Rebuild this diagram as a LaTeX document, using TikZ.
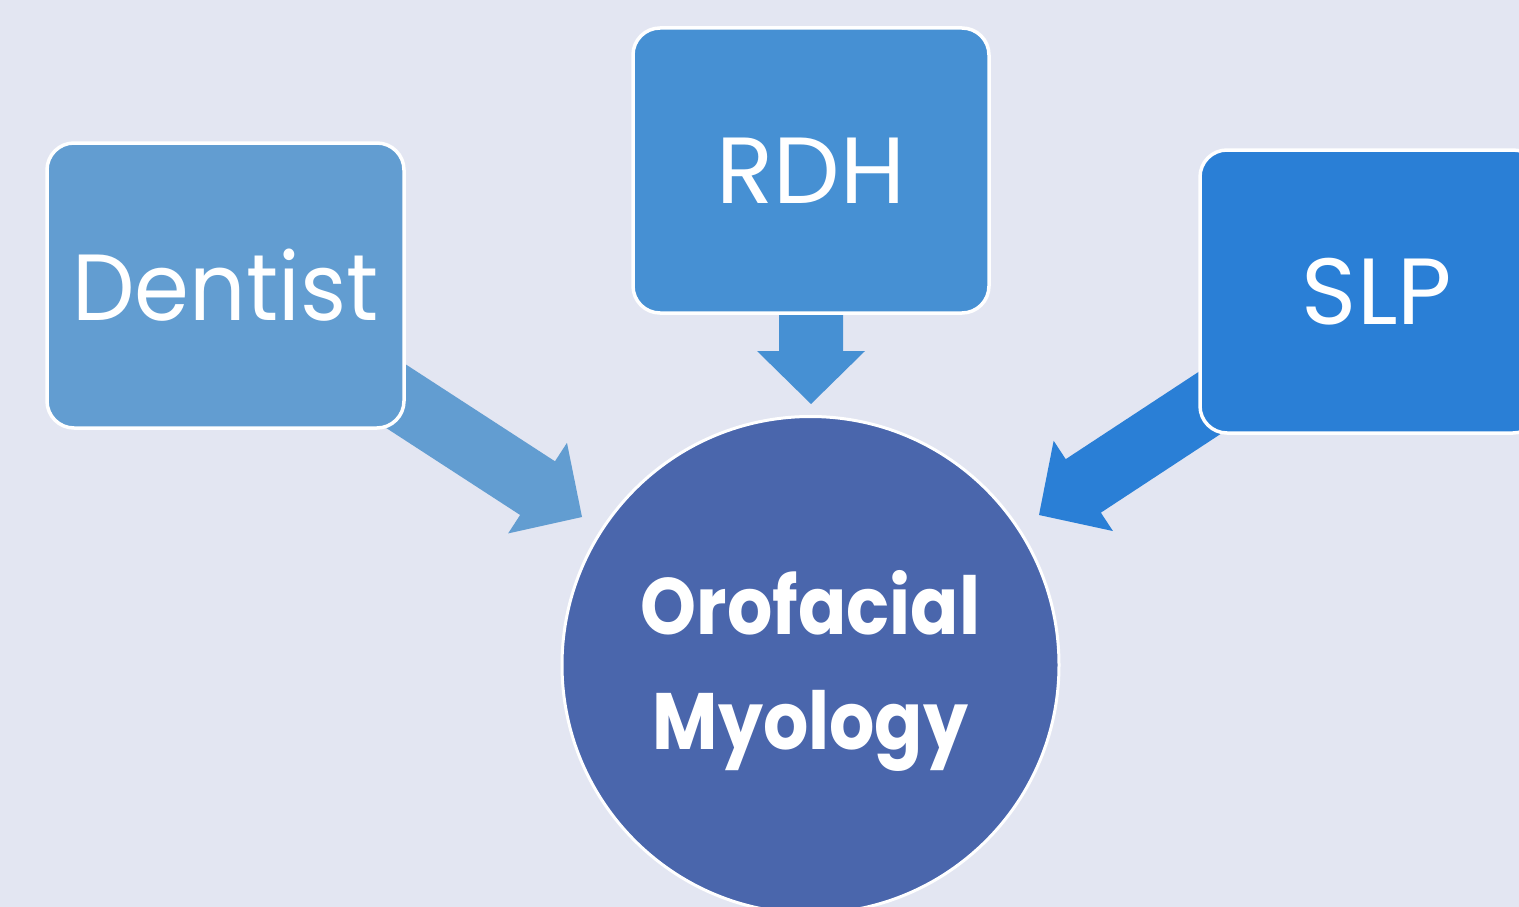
\documentclass[tikz,border=0pt]{standalone}
\usepackage{fontspec}
\usepackage{graphicx}
\setmainfont{Poppins}
\usetikzlibrary{backgrounds}
\definecolor{bgC}{RGB}{227,230,242}
\definecolor{dentC}{RGB}{98,157,209}
\definecolor{rdhC}{RGB}{70,144,211}
\definecolor{slpC}{RGB}{42,127,214}
\definecolor{circC}{RGB}{74,102,172}
\begin{document}
\begin{tikzpicture}[x=1pt,y=-1pt,
  box/.style={draw=white, line width=3.5pt, rounded corners=27pt, text=white,
    font=\fontsize{94}{100}\selectfont, inner sep=0pt},
  blockarrow/.pic={\fill[pic actions] (0,0) -- (-53,-54) -- (-53,-32) -- (-260,-32)
    -- (-260,32) -- (-53,32) -- (-53,54) -- cycle;}]
\useasboundingbox (0,0) rectangle (1519,907);
\clip (0,0) rectangle (1519,907);
% boxes
\node[box, fill=dentC, minimum width=357pt, minimum height=285pt] (dentist) at (225.5,285.5) {\scalebox{0.94}[1]{Dentist}};
\node[box, fill=rdhC, minimum width=356pt, minimum height=285pt] (rdh) at (811,170.5) {RDH};
\node[box, fill=slpC, minimum width=340pt, minimum height=283pt] (slp) at (1370,291.5) {\hspace*{14pt}SLP};
% circle
\node[circle, draw=white, line width=3pt, fill=circC, minimum size=497pt, inner sep=0pt,
  label={[yshift=-6pt, text=white, align=center, font=\bfseries\fontsize{80}{115}\selectfont]center:{\scalebox{0.89}[1]{Orofacial}\\\scalebox{0.89}[1]{Myology}}}] (omy) at (810.5,665) {};
% arrow tips
\coordinate (tipD) at (582,517);
\coordinate (tipR) at (811,404);
\coordinate (tipS) at (1039,515);
\begin{pgfonlayer}{background}
  \fill[bgC] (0,0) rectangle (1519,907);
  \pic[fill=dentC, rotate=-33] at (tipD) {blockarrow};
  \pic[fill=rdhC, rotate=-90] at (tipR) {blockarrow};
  \pic[fill=slpC, rotate=-146.7] at (tipS) {blockarrow};
\end{pgfonlayer}
\end{tikzpicture}
\end{document}
